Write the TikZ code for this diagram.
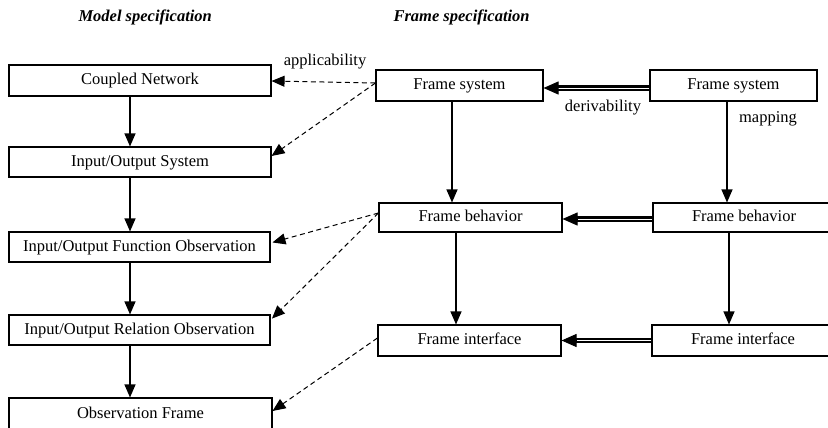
\documentclass[tikz,border=0pt]{standalone}
\usepackage{fontspec}
\setmainfont{Liberation Serif}
\usetikzlibrary{arrows.meta}
\begin{document}
\begin{tikzpicture}[x=1pt,y=-1pt,
  font=\fontsize{16.5}{19}\selectfont,
  box/.style={draw, line width=1.1pt, inner sep=0pt, text height=11.5pt, text depth=3.5pt},
  solidarrow/.style={line width=1.1pt, -{Triangle[length=13pt,width=11pt]}},
  dasharrow/.style={line width=1pt, dash pattern=on 5pt off 3.5pt, -{Triangle[length=13pt,width=11pt]}},
  dblline/.style={double, line width=2.3pt, double distance=0.9pt, shorten >=10pt},
  dbltip/.style={line width=1pt, -{Triangle[length=15pt,width=13pt]}},
  title/.style={font=\fontsize{16.5}{19}\selectfont\bfseries\itshape, anchor=west},
  lbl/.style={inner sep=0pt}]
\useasboundingbox (0,0) rectangle (828,428);
\clip (0,0) rectangle (828,428);
\fill[white] (0,0) rectangle (828,428);

% titles
\node[title] (t1) at (75,17) {Model specification};
\node[title] (t2) at (390,17) {Frame specification};

% left column
\node[box, minimum width=262pt, minimum height=31pt] (cn)  at (140,80.5) {Coupled Network};
\node[box, minimum width=262pt, minimum height=30pt] (ios) at (140,162) {Input/Output System};
\node[box, minimum width=261pt, minimum height=30pt] (iof) at (139.5,247) {Input/Output Function Observation};
\node[box, minimum width=261pt, minimum height=30pt] (ior) at (139.5,330) {Input/Output Relation Observation};
\node[box, minimum width=263pt, minimum height=32pt] (of)  at (140.5,414) {Observation Frame};

% middle column
\node[box, minimum width=167pt, minimum height=31pt] (fs1) at (459.5,85.5) {Frame system};
\node[box, minimum width=183pt, minimum height=29pt] (fb1) at (470.5,217.5) {Frame behavior};
\node[box, minimum width=183pt, minimum height=31pt] (fi1) at (469.5,340.5) {Frame interface};

% right column
\node[box, minimum width=167pt, minimum height=31pt] (fs2) at (733.5,85.5) {Frame system};
\node[box, minimum width=182pt, minimum height=29pt] (fb2) at (744,217.5) {Frame behavior};
\node[box, minimum width=182pt, minimum height=31pt] (fi2) at (743,340.5) {Frame interface};

% coordinates for vertical connectors
\coordinate (xl) at (130,0);
\coordinate (xm1) at (452,0);
\coordinate (xm2) at (456,0);
\coordinate (xr1) at (727,0);
\coordinate (xr2) at (729,0);

% left vertical arrows
\draw[solidarrow] (cn.south -| xl) -- (ios.north -| xl);
\draw[solidarrow] (ios.south -| xl) -- (iof.north -| xl);
\draw[solidarrow] (iof.south -| xl) -- (ior.north -| xl);
\draw[solidarrow] (ior.south -| xl) -- (of.north -| xl);

% middle & right vertical arrows
\draw[solidarrow] (fs1.south -| xm1) -- (fb1.north -| xm1);
\draw[solidarrow] (fb1.south -| xm2) -- (fi1.north -| xm2);
\draw[solidarrow] (fs2.south -| xr1) -- (fb2.north -| xr1);
\draw[solidarrow] (fb2.south -| xr2) -- (fi2.north -| xr2);

% dashed applicability arrows
\coordinate (d1) at ([yshift=2.5pt]fs1.west);
\coordinate (d2) at ([yshift=4.5pt]fb1.west);
\coordinate (d3) at ([yshift=2.5pt]fi1.west);
\draw[dasharrow] (d1) -- ([yshift=-0.5pt]cn.east);
\draw[dasharrow] (d1) -- ([yshift=6pt]ios.east);
\draw[dasharrow, shorten >=2pt] (d2) -- ([yshift=4pt]iof.east);
\draw[dasharrow, shorten >=2pt] (d2) -- ([yshift=10pt]ior.east);
\draw[dasharrow] (d3) -- ([yshift=3pt]of.east);

% double derivability arrows
\draw[dblline] ([yshift=-2.5pt]fs2.west) -- ([yshift=-2.5pt]fs1.east);
\draw[dbltip] ([xshift=14pt,yshift=-2.5pt]fs1.east) -- ([yshift=-2.5pt]fs1.east);
\draw[dblline] ([yshift=-1.5pt]fb2.west) -- ([yshift=-1.5pt]fb1.east);
\draw[dbltip] ([xshift=14pt,yshift=-1.5pt]fb1.east) -- ([yshift=-1.5pt]fb1.east);
\draw[dblline] (fi2.west) -- (fi1.east);
\draw[dbltip] ([xshift=14pt]fi1.east) -- (fi1.east);

% labels
\node[lbl] (la) at (325,62) {applicability};
\node[lbl] (ld) at (603,108) {derivability};
\node[lbl] (lm) at (768,119) {mapping};
\end{tikzpicture}
\end{document}
